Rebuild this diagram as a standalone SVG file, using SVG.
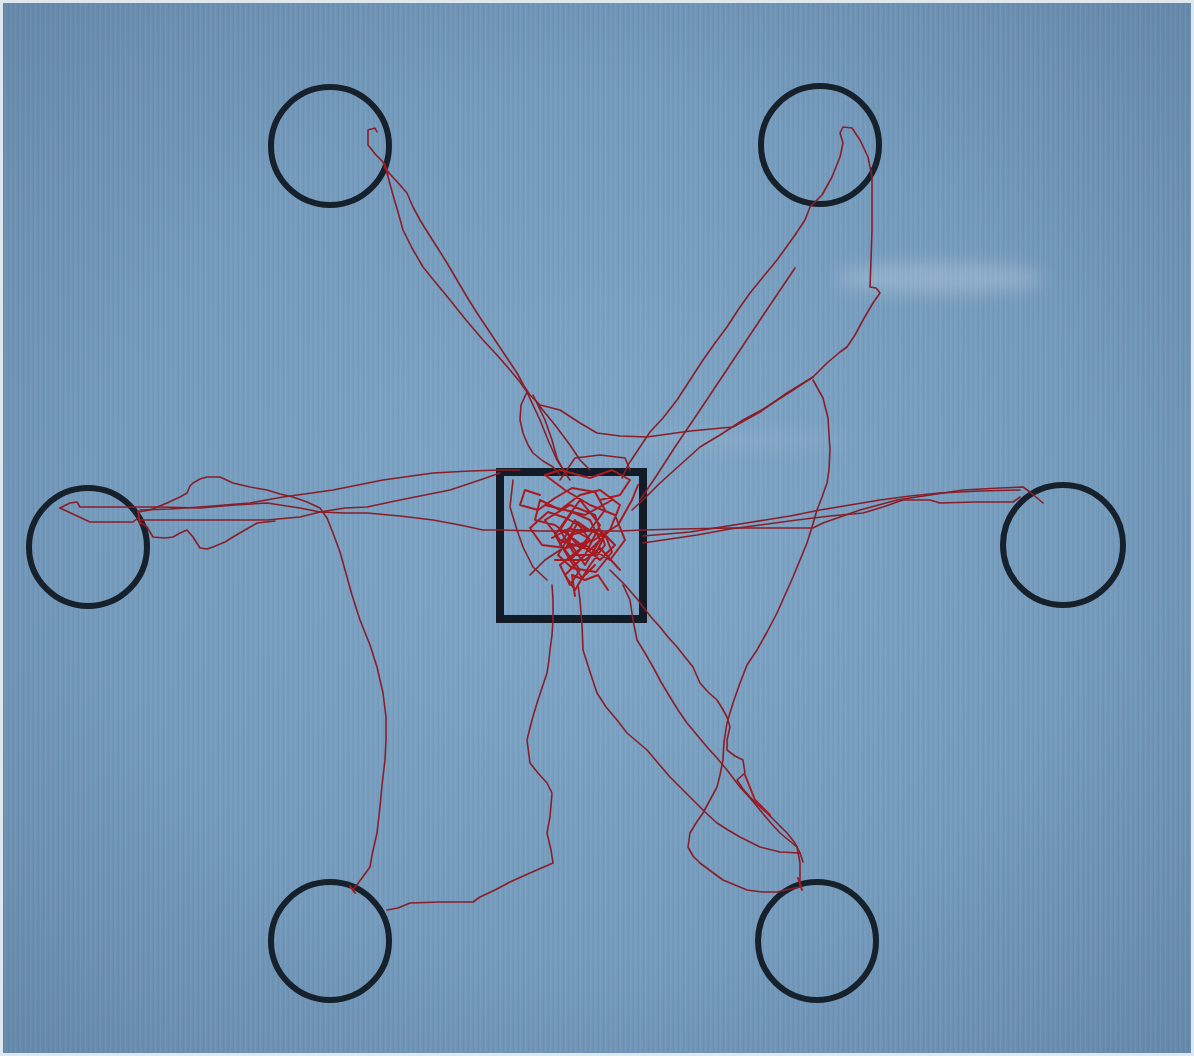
<svg xmlns="http://www.w3.org/2000/svg" width="1194" height="1056" viewBox="0 0 1194 1056">
<defs>
<radialGradient id="bg" cx="0.5" cy="0.5" r="0.7">
<stop offset="0" stop-color="#80a6c7"/>
<stop offset="0.6" stop-color="#749abc"/>
<stop offset="1" stop-color="#6589aa"/>
</radialGradient>
<pattern id="scan" width="5" height="10" patternUnits="userSpaceOnUse">
<rect x="0" y="0" width="1" height="10" fill="#ffffff" opacity="0.05"/>
<rect x="3" y="0" width="1" height="10" fill="#000000" opacity="0.03"/>
</pattern>
<filter id="blur" x="-50%" y="-200%" width="200%" height="500%"><feGaussianBlur stdDeviation="9"/></filter>
<style>
.target{fill:none;stroke:#16212c;stroke-width:6}
.box{fill:none;stroke:#121b26;stroke-width:8}
.t{fill:none;stroke:#8a1e28;stroke-width:1.6;stroke-linejoin:round;stroke-linecap:round}
.c{fill:none;stroke:#a91a20;stroke-width:2;stroke-linejoin:round;stroke-linecap:round}
</style>
</defs>
<rect width="1194" height="1056" fill="#dfe8ef"/>
<rect x="3" y="3" width="1188" height="1050" fill="url(#bg)"/>
<rect x="3" y="3" width="1188" height="1050" fill="url(#scan)"/>
<ellipse cx="940" cy="278" rx="105" ry="16" fill="#ffffff" opacity="0.2" filter="url(#blur)"/>
<ellipse cx="740" cy="440" rx="110" ry="6" fill="#ffffff" opacity="0.12" filter="url(#blur)"/>

<g id="targets">
<g id="target-top-left"><circle class="target" cx="330" cy="146" r="59"/></g>
<g id="target-top-right"><circle class="target" cx="820" cy="145" r="59"/></g>
<g id="target-left"><circle class="target" cx="88" cy="547" r="59"/></g>
<g id="target-right"><circle class="target" cx="1063" cy="545" r="60"/></g>
<g id="target-bottom-left"><circle class="target" cx="330" cy="941" r="59"/></g>
<g id="target-bottom-right"><circle class="target" cx="817" cy="941" r="59"/></g>
</g>
<g id="start-box"><rect class="box" x="500" y="472" width="143" height="147"/></g>

<g id="trajectories">
<path class="t" d="M377,132 L375,128 L368,130 L368,145 L376,155 L383,162 L387,173 L390,184 L393,195 L398,212 L403,230 L412,248 L423,267 L436,283 L450,300 L466,320 L483,340 L497,355 L510,370 L520,382 L527,392 L533,405 L540,420 L548,440 L557,460 L565,472"/>
<path class="t" d="M385,168 L390,174 L400,185 L407,193 L413,207 L420,220 L428,233 L437,247 L447,263 L457,280 L467,297 L477,313 L487,328 L497,343 L507,358 L517,373 L524,386 L530,395 L540,405 L560,410 L580,423 L597,433 L620,436 L647,437 L690,431 L733,427 L760,412 L787,393 L813,377 L827,363 L840,352 L847,347 L855,335 L863,320 L873,303 L880,293 L876,288 L870,287 L871,260 L872,230 L872,200 L872,177 L868,157 L860,140 L852,128 L843,127 L840,133 L843,143 L840,157 L832,177 L822,195 L810,207 L805,220 L795,235 L777,260 L763,277 L750,293 L738,310 L727,327 L715,343 L703,360 L690,380 L677,400 L663,418 L650,432 L638,450 L628,465 L622,478"/>
<path class="t" d="M813,377 L790,392 L765,408 L743,420 L720,435 L700,447 L680,465 L660,483 L645,498 L632,510"/>
<path class="t" d="M795,268 L760,320 L730,365 L700,410 L675,447 L655,478 L640,500"/>
<path class="t" d="M813,380 L823,398 L828,418 L830,450 L829,470 L827,483 L822,497 L817,510 L812,527 L807,543 L800,560 L793,577 L785,595 L777,613 L767,632 L757,650 L747,665 L740,683 L733,703 L727,723 L724,742 L723,760 L720,775 L717,787 L710,800 L703,813 L696,823 L690,833 L688,847 L693,856 L700,863 L712,872 L723,880 L735,885 L747,890 L762,892 L777,892 L790,889 L800,887"/>
<path class="t" d="M527,392 L521,405 L520,420 L523,433 L528,445 L533,453 L543,461 L553,467 L560,475"/>
<path class="t" d="M533,395 L545,420 L552,440 L557,458 L563,470 L570,480 M537,403 L555,425 L570,445 L580,460 L590,470"/>
<path class="t" d="M60,508 L70,503 L77,502 L80,507 L100,507 L133,507 L160,507 L200,508 L235,505 L267,503 L300,508 L320,512 L345,513 L367,513 L400,516 L433,520 L460,525 L483,530 L500,530 L540,531 L580,531 L620,531 L643,530 L680,529 L730,528 L780,528 L813,528 L823,523 L860,510 L897,500 L930,495 L963,490 L1000,488 L1023,487 L1030,492 L1043,503"/>
<path class="t" d="M643,543 L670,539 L697,535 L730,529 L760,525 L797,520 L830,516 L863,513 L883,507 L903,500 L930,500 L940,503 L975,502 L1003,502 L1013,502 L1020,497"/>
<path class="t" d="M643,536 L690,532 L740,524 L790,516 L820,510 L850,505 L880,500 L910,496 L940,493 L980,491 L1020,490"/>
<path class="t" d="M138,518 L133,522 L110,522 L90,522 L75,515 L60,508"/>
<path class="t" d="M140,510 L170,509 L200,507 L250,503 L283,497 L333,490 L383,480 L433,473 L470,471 L500,470 L520,470"/>
<path class="t" d="M140,520 L170,520 L200,520 L267,520 L300,517 L320,512 L345,508 L367,507 L400,500 L450,490 L480,480 L500,473"/>
<path class="t" d="M138,512 L150,510 L167,503 L180,497 L187,493 L190,486 L193,483 L200,479 L207,477 L220,477 L233,483 L250,487 L267,490 L280,494 L293,497 L307,502 L320,508 L327,518 L333,533 L340,552 L347,577 L352,595 L360,620 L370,645 L377,667 L383,693 L386,717 L386,740 L385,760 L382,785 L380,807 L377,833 L372,855 L370,867 L362,878 L353,890"/>
<path class="t" d="M140,522 L147,527 L153,537 L165,538 L173,537 L180,533 L187,530 L193,537 L200,548 L207,549 L213,547 L225,542 L233,537 L245,530 L257,523 L275,521"/>
<path class="t" d="M387,910 L398,908 L410,903 L440,902 L473,902 L480,897 L495,890 L510,882 L530,873 L553,863 L551,850 L547,833 L550,817 L552,793 L547,783 L538,773 L530,763 L527,740 L532,720 L537,703 L542,688 L547,673 L549,660 L550,650 L552,635 L553,620 L553,600 L552,585"/>
<path class="t" d="M578,585 L580,600 L582,625 L583,650 L590,672 L597,693 L606,707 L617,720 L627,733 L647,750 L658,763 L670,777 L682,789 L693,800 L705,812 L717,823 L728,830 L740,837 L760,847 L780,852 L800,853"/>
<path class="t" d="M623,585 L630,600 L633,620 L637,640 L645,653 L653,667 L661,682 L670,697 L678,710 L687,723 L697,735 L707,747 L717,758 L727,770 L740,787 L750,798 L760,810 L770,822 L780,833 L797,847 L800,863 L800,873 L800,883"/>
<path class="t" d="M610,570 L625,585 L638,600 L643,607 L651,617 L660,627 L668,637 L677,647 L685,657 L693,667 L700,683 L708,692 L717,700 L722,708 L727,717 L730,727 L727,740 L727,750 L735,756 L743,760 L745,773 L737,780 L743,789 L750,797 L758,805 L767,813 L777,823 L787,833 L795,843 L800,853 L803,862"/>
<path class="t" d="M560,480 L575,458 L600,455 L625,458 L630,470 M513,480 L510,507 L517,530 L523,547 L533,567 L547,580 M530,575 L545,560 L560,550"/>
<path class="c" d="M560,545 L575,520 L590,540 L570,560 L555,535 L580,500 L600,525 L585,555 L565,575 L575,590 L590,565 L605,545 L595,515 L570,505 L545,520 L560,540 L590,550 L610,530 L620,505 L600,490 L580,495 L560,510 L540,500 L535,520 L555,525 L575,540 L600,560 L615,545 L600,530 L575,530 L565,550 L580,570 L570,585 L560,565 L585,545 L610,560 L625,540 L615,515 L590,505 L565,490 L545,475 L560,470 L590,478 L612,470 L630,480 L620,495 L600,500"/>
<path class="c" d="M540,495 L525,490 L520,505 L538,510 L555,498 L572,488 L595,492 L605,510 L590,530 L570,535 L558,555 L572,568 L596,572 L612,552 L606,537 L582,527 L566,518 L548,512 L530,528 L542,545 L566,548 L594,540 L618,525 L632,500 L638,485 M575,596 L572,575 L585,580 L598,575 L608,590 M545,505 L585,515 L612,500 M555,560 L585,560 L600,548 L620,570"/>
<path class="c" d="M565,530 L580,548 L592,532 L578,522 L568,540 L585,565 L600,540 L590,520 L572,512 L560,530 L575,555 L595,555 L605,535 M570,560 L582,578 L595,565 M552,538 L570,528 L588,538 L578,552"/>
<path class="c" d="M138,511 L140,524 M384,163 L388,174 M350,886 L355,893 M798,878 L802,890 M745,775 L755,800 L770,815"/>
</g>
</svg>
